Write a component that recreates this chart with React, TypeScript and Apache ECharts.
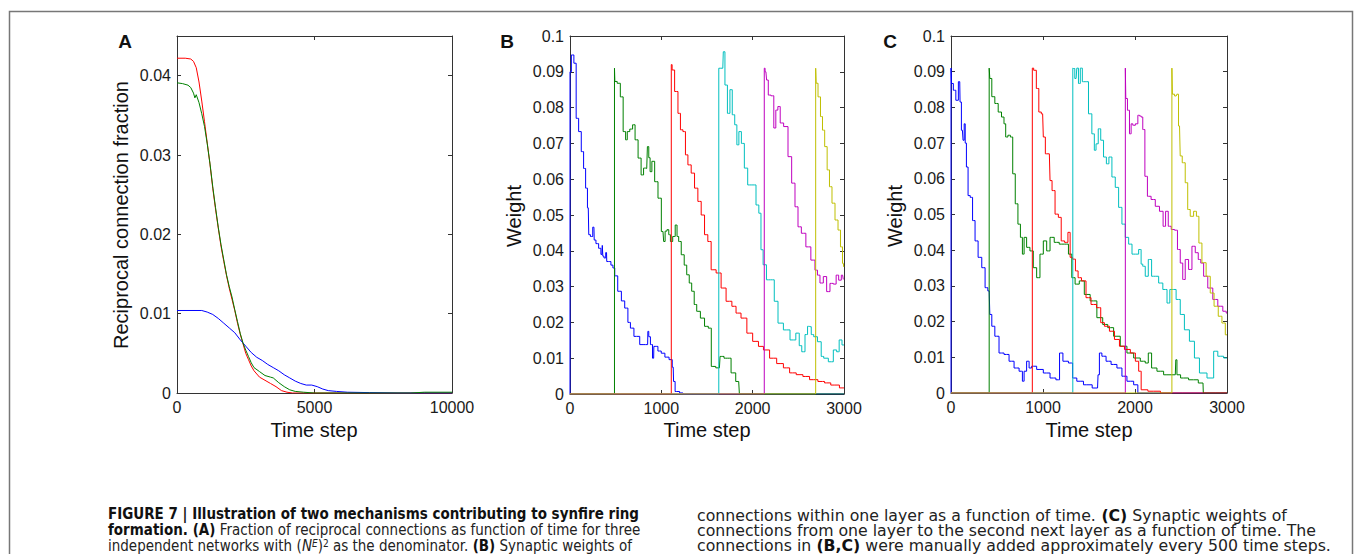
import React, { useEffect, useRef } from 'react';
import * as echarts from 'echarts';

const FONT = "'Liberation Sans', Arial, Helvetica, sans-serif";
const CAP_FONT = "'DejaVu Sans Condensed', 'Liberation Sans Narrow', 'Liberation Sans', sans-serif";

// ---------- Panel A: reciprocal connection fraction ----------
const aRed: number[][] = [[0,0.0422],[300,0.0422],[500,0.0421],[600,0.0418],[700,0.041],[800,0.0392],[900,0.0368],[1000,0.0342],[1100,0.0315],[1200,0.0288],[1300,0.0258],[1400,0.0232],[1500,0.0208],[1600,0.0185],[1700,0.0166],[1800,0.0148],[1900,0.0132],[2000,0.0118],[2100,0.0104],[2200,0.0088],[2300,0.0074],[2400,0.0062],[2500,0.005],[2600,0.0042],[2700,0.0034],[2800,0.0028],[3000,0.002],[3200,0.0016],[3400,0.0012],[3600,0.0008],[3800,0.0003],[4000,0.0001],[4200,0],[10000,0]];
const aGreen: number[][] = [[0,0.0391],[200,0.039],[400,0.0388],[500,0.0385],[600,0.0378],[650,0.0372],[700,0.0376],[800,0.0366],[900,0.0352],[1000,0.0336],[1100,0.0314],[1200,0.0289],[1300,0.026],[1400,0.0234],[1500,0.0209],[1600,0.0187],[1700,0.0168],[1800,0.0149],[1900,0.0134],[2000,0.0121],[2100,0.0105],[2200,0.009],[2300,0.0075],[2400,0.0063],[2500,0.0054],[2600,0.0046],[2700,0.0038],[2800,0.0032],[3000,0.0027],[3200,0.0022],[3400,0.002],[3500,0.0019],[3700,0.0013],[3900,0.0008],[4100,0.0004],[4300,0.0002],[4600,0.0001],[5000,0],[8500,0],[9000,0.0001],[10000,0.0001]];
const aBlue: number[][] = [[0,0.0104],[900,0.0104],[1100,0.0102],[1300,0.0099],[1500,0.0094],[1700,0.0088],[1900,0.0082],[2100,0.0076],[2300,0.0067],[2500,0.0059],[2700,0.0051],[2900,0.0045],[3100,0.0041],[3300,0.0036],[3500,0.0032],[3700,0.0028],[3900,0.0023],[4100,0.0019],[4300,0.0015],[4500,0.0012],[4700,0.001],[4900,0.001],[5100,0.0008],[5300,0.0005],[5500,0.0003],[5800,0.0002],[6200,0.0001],[7000,0.00005],[8000,0],[10000,0]];

// ---------- Panel B: weights within one layer ----------
const bBlue: number[][] = [[0,0],[0,0.09],[30,0.0947],[55,0.0924],[80,0.077],[109,0.0733],[138,0.0677],[160,0.063],[182,0.0575],[200,0.052],[211,0.0445],[236,0.044],[262,0.0466],[268,0.043],[300,0.042],[327,0.0407],[350,0.039],[357,0.0415],[362,0.0385],[382,0.038],[400,0.0395],[405,0.037],[436,0.037],[460,0.036],[480,0.0352],[500,0.033],[545,0.0287],[580,0.026],[618,0.024],[650,0.02],[673,0.0184],[727,0.0161],[800,0.0138],[850,0.0138],[855,0.0175],[870,0.016],[891,0.0138],[916,0.01],[920,0.0133],[945,0.0133],[980,0.012],[1018,0.0114],[1060,0.0103],[1109,0.0096],[1130,0.0075],[1138,0.0035],[1164,0.0007],[1236,0.0003],[1250,0],[3000,0]];
const bGreen: number[][] = [[0,0],[487,0],[487,0.091],[495,0.0873],[538,0.0868],[564,0.083],[600,0.0733],[618,0.071],[636,0.0733],[673,0.074],[698,0.0752],[727,0.071],[764,0.0659],[793,0.0612],[818,0.0631],[840,0.063],[855,0.0691],[870,0.066],[884,0.0621],[909,0.065],[945,0.0593],[982,0.0547],[1018,0.0454],[1033,0.0426],[1050,0.0455],[1073,0.0459],[1090,0.0445],[1109,0.0426],[1140,0.044],[1164,0.0472],[1180,0.044],[1200,0.0426],[1236,0.0389],[1265,0.036],[1291,0.0333],[1320,0.031],[1345,0.0287],[1375,0.025],[1400,0.0231],[1455,0.0212],[1491,0.0189],[1538,0.0184],[1556,0.0077],[1636,0.0073],[1650,0.0105],[1673,0.0105],[1700,0.01],[1745,0.01],[1782,0.0059],[1847,0.0035],[1862,0],[3000,0]];
const bRed: number[][] = [[0,0],[1109,0],[1109,0.092],[1127,0.0905],[1164,0.0845],[1200,0.0784],[1218,0.0738],[1255,0.0733],[1273,0.0668],[1309,0.064],[1345,0.0617],[1382,0.0575],[1418,0.0538],[1455,0.05],[1491,0.0445],[1527,0.0426],[1564,0.0347],[1636,0.0338],[1673,0.0296],[1745,0.0259],[1800,0.0245],[1836,0.0226],[1909,0.0212],[1964,0.017],[2036,0.0147],[2091,0.0133],[2145,0.0123],[2226,0.01],[2300,0.0085],[2373,0.0073],[2436,0.0059],[2518,0.0054],[2582,0.0049],[2664,0.004],[2764,0.0035],[2810,0.0031],[2900,0.0025],[3000,0.0017]];
const bCyan: number[][] = [[0,0],[1629,0],[1629,0.091],[1673,0.091],[1684,0.0956],[1709,0.0863],[1738,0.0784],[1764,0.085],[1789,0.078],[1818,0.0752],[1836,0.0696],[1862,0.0733],[1891,0.07],[1927,0.0631],[1964,0.0584],[2018,0.0584],[2055,0.0528],[2080,0.0505],[2102,0.0403],[2127,0.0361],[2175,0.0319],[2218,0.0319],[2255,0.0259],[2300,0.0198],[2373,0.0179],[2445,0.0151],[2500,0.017],[2520,0.0135],[2555,0.0118],[2591,0.0166],[2611,0.0189],[2628,0.0188],[2655,0.0166],[2682,0.016],[2737,0.0146],[2764,0.0105],[2792,0.01],[2865,0.009],[2901,0.0123],[2938,0.0118],[2956,0.0151],[3000,0.0137]];
const bMagenta: number[][] = [[0,0],[2127,0],[2127,0.091],[2145,0.09],[2160,0.0877],[2182,0.0835],[2218,0.0833],[2245,0.0743],[2262,0.0793],[2290,0.0803],[2313,0.0757],[2365,0.0747],[2409,0.0663],[2445,0.0589],[2482,0.0523],[2511,0.0467],[2555,0.0449],[2610,0.0411],[2664,0.0374],[2700,0.0346],[2719,0.0332],[2755,0.031],[2792,0.0328],[2828,0.0286],[2865,0.0309],[2901,0.0307],[2927,0.0332],[2956,0.0318],[2985,0.0332],[3000,0.032]];
const bYellow: number[][] = [[0,0],[2690,0],[2690,0.091],[2701,0.0868],[2730,0.083],[2755,0.0775],[2774,0.0737],[2803,0.0691],[2828,0.0626],[2854,0.0579],[2883,0.0533],[2920,0.0486],[2949,0.0458],[2974,0.0411],[2993,0.0365],[3000,0.0355]];

// ---------- Panel C: weights to the second next layer ----------
const cBlue: number[][] = [[0,0],[0,0.091],[11,0.0867],[40,0.0848],[65,0.082],[95,0.0872],[102,0.0815],[124,0.0736],[138,0.0708],[149,0.0754],[160,0.07],[175,0.0633],[196,0.0553],[222,0.0548],[247,0.0483],[276,0.0426],[313,0.038],[356,0.0351],[385,0.0295],[415,0.0286],[429,0.022],[458,0.0187],[495,0.0159],[549,0.0112],[604,0.0108],[658,0.0089],[713,0.007],[767,0.0061],[785,0.0033],[804,0.0061],[840,0.0089],[858,0.007],[895,0.0075],[967,0.0066],[1040,0.0056],[1113,0.0042],[1167,0.0037],[1193,0.0112],[1240,0.0089],[1313,0.0084],[1331,0.0042],[1404,0.0033],[1476,0.0023],[1593,0.0014],[1604,0.0051],[1622,0.0112],[1658,0.0103],[1713,0.0089],[1767,0.008],[1840,0.007],[1876,0.0047],[1949,0.0033],[2022,0.0023],[2040,0],[3000,0]];
const cGreen: number[][] = [[0,0],[415,0],[415,0.091],[429,0.0881],[458,0.083],[495,0.0811],[531,0.0787],[567,0.0773],[585,0.0754],[604,0.0717],[633,0.0722],[658,0.0717],[684,0.0614],[713,0.053],[742,0.0473],[767,0.0436],[785,0.0389],[804,0.0436],[840,0.0408],[876,0.0398],[913,0.0351],[949,0.0323],[985,0.0389],[1022,0.0426],[1058,0.0398],[1095,0.0436],[1149,0.0422],[1204,0.0417],[1258,0.0417],[1295,0.0389],[1331,0.0323],[1367,0.0305],[1422,0.0314],[1476,0.0276],[1549,0.0258],[1622,0.0211],[1676,0.0192],[1731,0.0183],[1804,0.0159],[1876,0.0131],[1949,0.0112],[2022,0.0098],[2093,0.0089],[2130,0.0084],[2159,0.0112],[2202,0.007],[2275,0.0061],[2347,0.0051],[2438,0.0051],[2449,0.0093],[2463,0.0051],[2528,0.0042],[2637,0.0037],[2739,0.0028],[2746,0],[3000,0]];
const cRed: number[][] = [[0,0],[884,0],[884,0.091],[913,0.0904],[942,0.0853],[967,0.0787],[996,0.0782],[1011,0.0717],[1040,0.067],[1069,0.067],[1084,0.0595],[1113,0.0567],[1149,0.0501],[1185,0.0492],[1211,0.0426],[1258,0.0422],[1284,0.045],[1306,0.038],[1338,0.0375],[1367,0.0342],[1396,0.0323],[1440,0.0314],[1495,0.0267],[1549,0.0248],[1615,0.0239],[1640,0.0197],[1695,0.0187],[1749,0.0173],[1804,0.015],[1858,0.0131],[1913,0.0122],[1986,0.0112],[2022,0.0089],[2058,0.0061],[2076,0.0009],[2204,0.0005],[2349,0],[3000,0]];
const cCyan: number[][] = [[0,0],[1324,0],[1324,0.091],[1331,0.0909],[1360,0.0881],[1375,0.091],[1396,0.0867],[1415,0.091],[1440,0.0872],[1476,0.0872],[1513,0.0782],[1549,0.0726],[1567,0.068],[1586,0.0698],[1615,0.074],[1640,0.0708],[1676,0.0661],[1702,0.0642],[1731,0.0661],[1767,0.0605],[1804,0.0576],[1840,0.052],[1876,0.0473],[1913,0.0436],[1949,0.0417],[1986,0.0389],[2022,0.0389],[2057,0.0402],[2076,0.0361],[2093,0.0355],[2130,0.0327],[2159,0.0374],[2202,0.0327],[2239,0.0327],[2275,0.0308],[2330,0.029],[2366,0.0252],[2391,0.029],[2420,0.029],[2474,0.0262],[2510,0.022],[2564,0.0177],[2619,0.0145],[2673,0.0098],[2728,0.0056],[2837,0.0042],[2873,0.0117],[2927,0.0103],[3000,0.0098]];
const cMagenta: number[][] = [[0,0],[1895,0],[1895,0.091],[1905,0.0825],[1931,0.0792],[1949,0.0726],[1967,0.0754],[1986,0.075],[2022,0.0754],[2040,0.0778],[2057,0.0776],[2076,0.0773],[2093,0.0738],[2122,0.0607],[2148,0.0551],[2202,0.0542],[2239,0.0523],[2293,0.0509],[2318,0.0467],[2347,0.0509],[2376,0.0467],[2412,0.0458],[2449,0.0456],[2474,0.0402],[2510,0.0364],[2528,0.0318],[2564,0.0374],[2601,0.0346],[2637,0.0411],[2673,0.0393],[2702,0.0374],[2728,0.0364],[2764,0.0327],[2818,0.0294],[2873,0.0262],[2927,0.0243],[2982,0.0229],[3000,0.0224]];
const cYellow: number[][] = [[0,0],[2401,0],[2401,0.091],[2412,0.0837],[2448,0.0832],[2462,0.0837],[2484,0.0748],[2499,0.0664],[2528,0.0645],[2564,0.0589],[2582,0.0514],[2619,0.0495],[2655,0.0509],[2680,0.0495],[2709,0.042],[2746,0.0365],[2800,0.0327],[2836,0.028],[2883,0.0243],[2927,0.0215],[2963,0.0196],[3000,0.0163]];

const COLORS = {
  blue: '#0000ff', green: '#008000', red: '#ff0000',
  cyan: '#00bfbf', magenta: '#bf00bf', yellow: '#bfbf00',
};

const panelLetters = ['A', 'B', 'C'];
const xTitle = 'Time step';
const yTitles = ['Reciprocal connection fraction', 'Weight', 'Weight'];

const captionLeft = [
  '{b|FIGURE 7 | Illustration of two mechanisms contributing to synfire ring}',
  '{b|formation. (A)} Fraction of reciprocal connections as function of time for three',
  'independent networks with ({i|N}{supi|E}){sup|2} as the denominator. {b|(B)} Synaptic weights of',
];
const captionRight = [
  'connections within one layer as a function of time. {b|(C)} Synaptic weights of',
  'connections from one layer to the second next layer as a function of time. The',
  'connections in {b|(B,C)} were manually added approximately every 500 time steps.',
];

const fmt = (v: number) => String(parseFloat(v.toFixed(4)));

function axisPair(gi: number, max: number, interval: number, isX: boolean, hideMax: boolean) {
  const common = {
    gridIndex: gi,
    type: 'value' as const,
    min: 0,
    max,
    interval,
    splitLine: { show: false },
    axisLine: { show: true, onZero: false, lineStyle: { color: '#333', width: 1 } },
    axisTick: { show: true, inside: true, length: 4, lineStyle: { color: '#333', width: 1 } },
  };
  const main = {
    ...common,
    position: isX ? 'bottom' : 'left',
    axisLabel: {
      show: true,
      margin: 6,
      fontFamily: FONT,
      fontSize: 16,
      color: '#1a1a1a',
      formatter: fmt,
      showMaxLabel: !hideMax,
    },
  };
  const second = {
    ...common,
    position: isX ? 'top' : 'right',
    axisLabel: { show: false },
  };
  return [main, second];
}

function lineSeries(data: number[][], color: string, axisIdx: number, step: boolean) {
  return {
    type: 'line',
    xAxisIndex: axisIdx,
    yAxisIndex: axisIdx,
    data,
    step: step ? 'middle' : false,
    symbol: 'none',
    showSymbol: false,
    silent: true,
    clip: true,
    lineStyle: { color, width: 1 },
    itemStyle: { color },
    z: 2,
  };
}

function txt(text: string, x: number, y: number, font: string, extra: any = {}) {
  const { style, align, ...rest } = extra;
  return {
    type: 'text',
    x,
    y,
    silent: true,
    ...rest,
    style: {
      text,
      font,
      fill: '#111',
      align: align || 'center',
      textAlign: align || 'center',
      verticalAlign: 'middle',
      textVerticalAlign: 'middle',
      ...(style || {}),
    },
  };
}

export default function App() {
  const ref = useRef<HTMLDivElement>(null);
  useEffect(() => {
    if (!ref.current) return;
    const chart = echarts.init(ref.current, null, { renderer: 'svg' });

    const [ax0, ax1] = axisPair(0, 10000, 5000, true, false);
    const [ay0, ay1] = axisPair(0, 0.045, 0.01, false, true);
    const [bx0, bx1] = axisPair(1, 3000, 1000, true, false);
    const [by0, by1] = axisPair(1, 0.1, 0.01, false, false);
    const [cx0, cx1] = axisPair(2, 3000, 1000, true, false);
    const [cy0, cy1] = axisPair(2, 0.1, 0.01, false, false);

    const capRegL = `15px ${CAP_FONT}`;
    const capBoldL = `bold 15px ${CAP_FONT}`;
    const capRegR = `15.5px ${CAP_FONT}`;
    const capBoldR = `bold 15.5px ${CAP_FONT}`;
    const richL = {
      b: { font: capBoldL, fill: '#111' },
      i: { font: `italic 15px ${CAP_FONT}`, fill: '#222' },
      supi: { font: `italic 10px ${CAP_FONT}`, fill: '#222', verticalAlign: 'top' },
      sup: { font: `10px ${CAP_FONT}`, fill: '#222', verticalAlign: 'top' },
    };
    const richR = { b: { font: capBoldR, fill: '#111' } };
    const leftScale = { scaleX: 1, scaleY: 1.1 };
    const rightScale = { scaleX: 1.13, scaleY: 1.0 };

    const graphic: any[] = [
      {
        type: 'rect',
        silent: true,
        z: -10,
        shape: { x: 9.5, y: 11.5, width: 1343, height: 620 },
        style: { fill: '#fff', stroke: '#777', lineWidth: 1.5 },
      },
      txt(panelLetters[0], 125, 41, `bold 19px ${FONT}`),
      txt(panelLetters[1], 507, 41, `bold 19px ${FONT}`),
      txt(panelLetters[2], 890, 41, `bold 19px ${FONT}`),
      txt(xTitle, 314, 430, `20px ${FONT}`),
      txt(xTitle, 707, 430, `20px ${FONT}`),
      txt(xTitle, 1089, 430, `20px ${FONT}`),
      txt(yTitles[0], 121, 215, `20px ${FONT}`, { rotation: Math.PI / 2 }),
      txt(yTitles[1], 514, 216, `20px ${FONT}`, { rotation: Math.PI / 2 }),
      txt(yTitles[2], 895, 216, `20px ${FONT}`, { rotation: Math.PI / 2 }),
      txt(captionLeft[0], 108, 513, capBoldL, { align: 'left', ...leftScale, style: { rich: richL, fill: '#111', lineHeight: 15 } }),
      txt(captionLeft[1], 108, 529.5, capRegL, { align: 'left', ...leftScale, style: { rich: richL, fill: '#222', lineHeight: 15 } }),
      txt(captionLeft[2], 108, 545.5, capRegL, { align: 'left', ...leftScale, style: { rich: richL, fill: '#222', lineHeight: 15 } }),
      txt(captionRight[0], 697, 516, capRegR, { align: 'left', ...rightScale, style: { rich: richR, fill: '#222', lineHeight: 15 } }),
      txt(captionRight[1], 697, 531, capRegR, { align: 'left', ...rightScale, style: { rich: richR, fill: '#222', lineHeight: 15 } }),
      txt(captionRight[2], 697, 546, capRegR, { align: 'left', ...rightScale, style: { rich: richR, fill: '#222', lineHeight: 15 } }),
    ];

    const option: any = {
      animation: false,
      backgroundColor: '#ffffff',
      grid: [
        { left: 177, top: 36, width: 275, height: 357, show: false },
        { left: 570, top: 36, width: 274, height: 358, show: false },
        { left: 951, top: 36, width: 276, height: 357, show: false },
      ],
      xAxis: [ax0, ax1, bx0, bx1, cx0, cx1],
      yAxis: [ay0, ay1, by0, by1, cy0, cy1],
      series: [
        lineSeries(aRed, COLORS.red, 0, false),
        lineSeries(aBlue, COLORS.blue, 0, false),
        lineSeries(aGreen, COLORS.green, 0, false),
        lineSeries(bBlue, COLORS.blue, 2, true),
        lineSeries(bGreen, COLORS.green, 2, true),
        lineSeries(bRed, COLORS.red, 2, true),
        lineSeries(bCyan, COLORS.cyan, 2, true),
        lineSeries(bMagenta, COLORS.magenta, 2, true),
        lineSeries(bYellow, COLORS.yellow, 2, true),
        lineSeries(cBlue, COLORS.blue, 4, true),
        lineSeries(cGreen, COLORS.green, 4, true),
        lineSeries(cRed, COLORS.red, 4, true),
        lineSeries(cCyan, COLORS.cyan, 4, true),
        lineSeries(cMagenta, COLORS.magenta, 4, true),
        lineSeries(cYellow, COLORS.yellow, 4, true),
      ],
      graphic,
    };
    chart.setOption(option);
    return () => chart.dispose();
  }, []);

  return (
    <div style={{ position: 'absolute', left: 0, top: 0, width: 1355, height: 554, background: '#fff' }}>
      <div ref={ref} style={{ width: 1355, height: 554 }} />
    </div>
  );
}
